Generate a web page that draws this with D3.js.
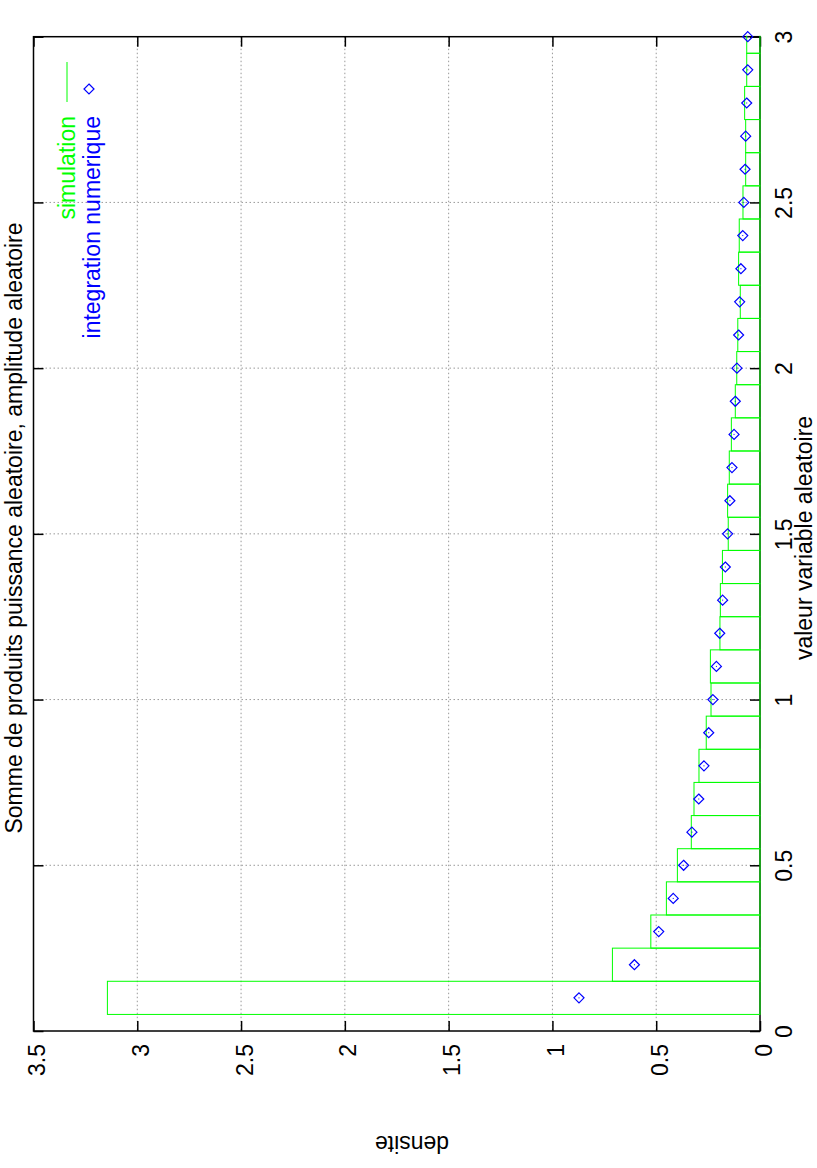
<!DOCTYPE html>
<html>
<head>
<meta charset="utf-8">
<script src="https://cdn.jsdelivr.net/npm/d3@7"></script>
<style>
  body { margin: 0; background: #fff; }
  text { font-family: "Liberation Sans", Arial, Helvetica, sans-serif; }
</style>
</head>
<body>
<div id="chart"></div>
<script>
// Data
var binCenters = [0.1, 0.2, 0.3, 0.4, 0.5, 0.6, 0.7, 0.8, 0.9, 1.0,
                  1.1, 1.2, 1.3, 1.4, 1.5, 1.6, 1.7, 1.8, 1.9, 2.0,
                  2.1, 2.2, 2.3, 2.4, 2.5, 2.6, 2.7, 2.8, 2.9, 3.0];
var simulation = [3.144, 0.711, 0.526, 0.451, 0.398, 0.331, 0.318, 0.294, 0.259, 0.236,
                  0.239, 0.193, 0.191, 0.181, 0.153, 0.156, 0.148, 0.138, 0.119, 0.112,
                  0.107, 0.095, 0.103, 0.100, 0.082, 0.069, 0.069, 0.074, 0.064, 0.064];
var integration = [0.872, 0.605, 0.488, 0.418, 0.368, 0.328, 0.295, 0.270, 0.247, 0.227,
                   0.210, 0.194, 0.180, 0.167, 0.156, 0.145, 0.135, 0.125, 0.119, 0.111,
                   0.103, 0.098, 0.092, 0.083, 0.078, 0.072, 0.069, 0.064, 0.059, 0.059];
var binWidth = 0.1;
var densityTicks = [0, 0.5, 1, 1.5, 2, 2.5, 3, 3.5];
var valueTicks = [0, 0.5, 1, 1.5, 2, 2.5, 3];

// Set up chart (the gnuplot page is turned a quarter turn)
var svgWidth = 817;
var svgHeight = 1168;
var plot = { left: 33.5, right: 760, top: 36.7, bottom: 1031 };
var fontSize = "23px";

var svg = d3.select("#chart")
    .append("svg")
    .attr("width", svgWidth)
    .attr("height", svgHeight);

// density runs right to left, variable runs bottom to top
var xScale = d3.scaleLinear()
    .domain([0, 3.5])
    .range([plot.right, plot.left]);

var yScale = d3.scaleLinear()
    .domain([0, 3])
    .range([plot.bottom, plot.top]);

// Grid
var grid = svg.append("g")
    .attr("stroke", "#999")
    .attr("stroke-width", 1)
    .attr("stroke-dasharray", "1.5,2.5");

grid.selectAll("line.gx")
    .data(densityTicks.filter(d => d > 0 && d < 3.5))
    .enter()
    .append("line")
    .attr("x1", d => xScale(d))
    .attr("x2", d => xScale(d))
    .attr("y1", plot.top)
    .attr("y2", plot.bottom);

grid.selectAll("line.gy")
    .data(valueTicks.filter(d => d > 0 && d < 3))
    .enter()
    .append("line")
    .attr("x1", plot.left)
    .attr("x2", plot.right)
    .attr("y1", d => yScale(d))
    .attr("y2", d => yScale(d));

// Axes
var bottomAxis = d3.axisBottom(xScale).tickValues(densityTicks).tickSize(-10).tickSizeOuter(0).tickFormat(d3.format(""));
var topAxis = d3.axisTop(xScale).tickValues(densityTicks).tickSize(-10).tickSizeOuter(0).tickFormat("");
var rightAxis = d3.axisRight(yScale).tickValues(valueTicks).tickSize(-10).tickSizeOuter(0).tickFormat(d3.format(""));
var leftAxis = d3.axisLeft(yScale).tickValues(valueTicks).tickSize(-10).tickSizeOuter(0).tickFormat("");

function styleAxis(g) {
    g.select(".domain").remove();
    g.selectAll(".tick line").attr("stroke", "#000").attr("stroke-width", 1.5);
    g.selectAll(".tick text")
        .attr("fill", "#000")
        .style("font-size", fontSize)
        .style("font-family", "'Liberation Sans', Arial, Helvetica, sans-serif");
}

svg.append("g")
    .attr("transform", `translate(0, ${plot.bottom})`)
    .call(bottomAxis)
    .call(styleAxis)
    .selectAll(".tick text")
    .attr("transform", "rotate(-90)")
    .attr("x", -13)
    .attr("y", 11)
    .attr("dy", null)
    .style("text-anchor", "end");

svg.append("g")
    .attr("transform", `translate(0, ${plot.top})`)
    .call(topAxis)
    .call(styleAxis);

svg.append("g")
    .attr("transform", `translate(${plot.right}, 0)`)
    .call(rightAxis)
    .call(styleAxis)
    .selectAll(".tick text")
    .attr("transform", "rotate(-90)")
    .attr("x", 0)
    .attr("y", 32)
    .attr("dy", null)
    .style("text-anchor", "middle");

svg.append("g")
    .attr("transform", `translate(${plot.left}, 0)`)
    .call(leftAxis)
    .call(styleAxis);

// Border
svg.append("rect")
    .attr("x", plot.left)
    .attr("y", plot.top)
    .attr("width", plot.right - plot.left)
    .attr("height", plot.bottom - plot.top)
    .attr("fill", "none")
    .attr("stroke", "#000")
    .attr("stroke-width", 1.5);

// Clip for the boxes
svg.append("clipPath")
    .attr("id", "plotClip")
    .append("rect")
    .attr("x", plot.left)
    .attr("y", plot.top - 1)
    .attr("width", plot.right - plot.left + 1)
    .attr("height", plot.bottom - plot.top + 1);

// Histogram boxes (simulation)
svg.append("g")
    .attr("clip-path", "url(#plotClip)")
    .selectAll("rect")
    .data(binCenters)
    .enter()
    .append("rect")
    .attr("x", (d, i) => xScale(simulation[i]))
    .attr("y", d => yScale(d + binWidth / 2))
    .attr("width", (d, i) => xScale(0) - xScale(simulation[i]))
    .attr("height", d => yScale(d - binWidth / 2) - yScale(d + binWidth / 2))
    .attr("fill", "none")
    .attr("stroke", "#00ff00")
    .attr("stroke-width", 1);

// Diamonds (integration numerique)
var diamond = "M0,-5L5,0L0,5L-5,0Z";
var points = svg.append("g")
    .selectAll("g")
    .data(binCenters)
    .enter()
    .append("g")
    .attr("transform", (d, i) => `translate(${xScale(integration[i])}, ${yScale(d)})`);

points.append("path")
    .attr("d", diamond)
    .attr("fill", "none")
    .attr("stroke", "#0000ff")
    .attr("stroke-width", 1.2);

points.append("rect")
    .attr("x", -0.5)
    .attr("y", -0.5)
    .attr("width", 1)
    .attr("height", 1)
    .attr("fill", "#0000ff");

// Legend
svg.append("line")
    .attr("x1", 67).attr("x2", 67)
    .attr("y1", 62).attr("y2", 102)
    .attr("stroke", "#00ff00")
    .attr("stroke-width", 1);

svg.append("path")
    .attr("d", diamond)
    .attr("transform", "translate(89, 89)")
    .attr("fill", "none")
    .attr("stroke", "#0000ff")
    .attr("stroke-width", 1.2);

svg.append("text")
    .attr("transform", "translate(75, 116) rotate(-90)")
    .style("text-anchor", "end")
    .style("font-size", fontSize)
    .attr("fill", "#00ff00")
    .text("simulation");

svg.append("text")
    .attr("transform", "translate(100, 116) rotate(-90)")
    .style("text-anchor", "end")
    .style("font-size", fontSize)
    .attr("fill", "#0000ff")
    .text("integration numerique");

// Title and axis labels
svg.append("text")
    .attr("transform", "translate(21.5, 528) rotate(-90)")
    .style("text-anchor", "middle")
    .style("font-size", fontSize)
    .text("Somme de produits puissance aleatoire, amplitude aleatoire");

svg.append("text")
    .attr("transform", "translate(812, 538) rotate(-90)")
    .style("text-anchor", "middle")
    .style("font-size", fontSize)
    .text("valeur variable aleatoire");

svg.append("text")
    .attr("transform", "translate(412, 1136) rotate(180)")
    .style("text-anchor", "middle")
    .style("font-size", fontSize)
    .text("densite");
</script>
</body>
</html>
